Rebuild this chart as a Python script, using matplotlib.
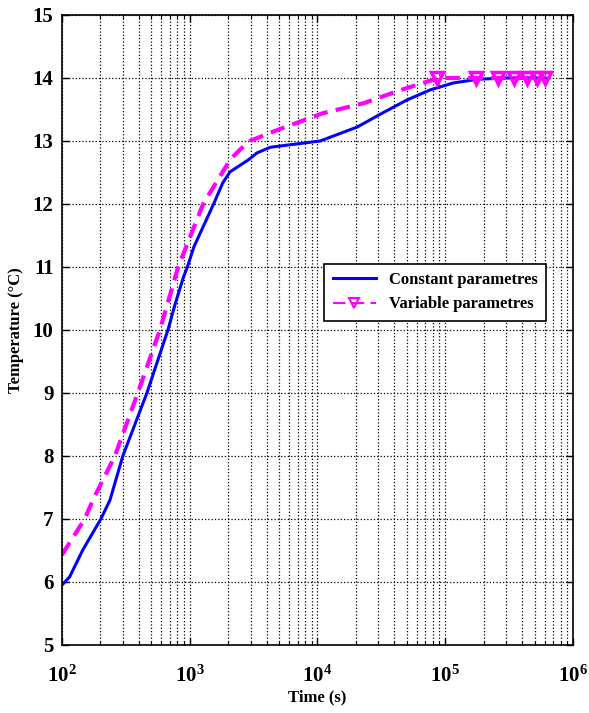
import numpy as np
import matplotlib
matplotlib.use('Agg')
import matplotlib.pyplot as plt
from matplotlib.ticker import LogLocator, FuncFormatter, NullFormatter

plt.rcParams['font.family'] = ['Liberation Serif', 'DejaVu Serif']
plt.rcParams['font.weight'] = 'bold'
plt.rcParams['mathtext.fontset'] = 'custom'
plt.rcParams['mathtext.rm'] = 'Liberation Serif:bold'
plt.rcParams['mathtext.bf'] = 'Liberation Serif:bold'

# 常参数曲线 (时间 s, 温度 °C)
t_const = [100, 115, 146, 202, 238, 300, 463, 676, 767, 891, 960, 1080, 1540, 1810, 2070,
           2880, 3360, 4270, 10500, 20400, 32000, 50000, 76000, 115000, 180000, 300000, 604800]
T_const = [5.95, 6.08, 6.51, 7.0, 7.3, 8.0, 9.0, 10.0, 10.4, 10.83, 11.0, 11.32, 12.0, 12.33, 12.51,
           12.7, 12.81, 12.9, 13.0, 13.22, 13.44, 13.65, 13.81, 13.92, 13.98, 14.0, 14.0]

# 变参数曲线
t_var = [100, 151, 175, 260, 393, 585, 813, 1275, 2070, 2470, 2960, 4800, 11000,
         23000, 45000, 80000, 86400, 172800, 259200, 345600, 432000, 518400, 604800]
T_var = [6.43, 7.0, 7.3, 8.0, 9.0, 10.0, 11.0, 12.0, 12.7, 12.86, 13.0, 13.17, 13.44,
         13.6, 13.81, 13.97, 14.0, 14.0, 14.0, 14.0, 14.0, 14.0, 14.0]
# 标记点: 每天一个 (1~7 天)
t_mark = [86400, 172800, 259200, 345600, 432000, 518400, 604800]
T_mark = [14.0] * 7

fig = plt.figure(figsize=(5.89, 7.13), dpi=100)
ax = fig.add_axes([0.105, 0.0954, 0.868, 0.8836])

ax.plot(t_const, T_const, color='blue', linewidth=2.2, label='Constant parametres')
ax.plot(t_var, T_var, color='magenta', linewidth=3, linestyle=(0, (3.5, 2)))
ax.plot(t_mark, T_mark, color='magenta', linestyle='none', marker='v',
        markersize=8, markerfacecolor='none', markeredgewidth=2.5)
# 图例用的代理线
ax.plot([], [], color='magenta', linewidth=1.5, linestyle=(0, (6, 3)), marker='v',
        markersize=7, markerfacecolor='none', markeredgewidth=1.5, label='Variable parametres')

ax.set_xscale('log')
ax.set_xlim(1e2, 1e6)
ax.set_ylim(5, 15)
ax.set_yticks(np.arange(5, 16, 1))
ax.xaxis.set_major_locator(LogLocator(base=10, numticks=10))
ax.xaxis.set_minor_locator(LogLocator(base=10, subs=np.arange(2, 10), numticks=20))
ax.xaxis.set_major_formatter(FuncFormatter(lambda v, p: r'$\mathbf{10^{%d}}$' % round(np.log10(v))))
ax.xaxis.set_minor_formatter(NullFormatter())

ax.tick_params(which='both', direction='in', top=True, right=True, labelsize=15)
ax.tick_params(which='major', length=5, width=1)
ax.tick_params(which='minor', length=3, width=0.8)
ax.tick_params(axis='x', which='major', pad=15)
ax.tick_params(axis='y', which='major', pad=6)
for lab in ax.get_yticklabels():
    lab.set_fontweight('bold')

ax.grid(True, which='major', color='black', linestyle=':', linewidth=0.9)
ax.grid(True, which='minor', axis='x', color='black', linestyle=':', linewidth=0.9)
for s in ax.spines.values():
    s.set_linewidth(1.2)

ax.set_xlabel('Time (s)', fontsize=12, fontweight='bold', labelpad=2)
ax.set_ylabel('Temperature (°C)', fontsize=12, fontweight='bold', labelpad=6)

leg = ax.legend(loc='center left', bbox_to_anchor=(0.497, 0.56), fontsize=12,
                frameon=True, fancybox=False, edgecolor='black', framealpha=1,
                handlelength=2.6, borderpad=0.5, labelspacing=0.5)
leg.get_frame().set_linewidth(1.2)

fig.savefig('out.png', dpi=100)
